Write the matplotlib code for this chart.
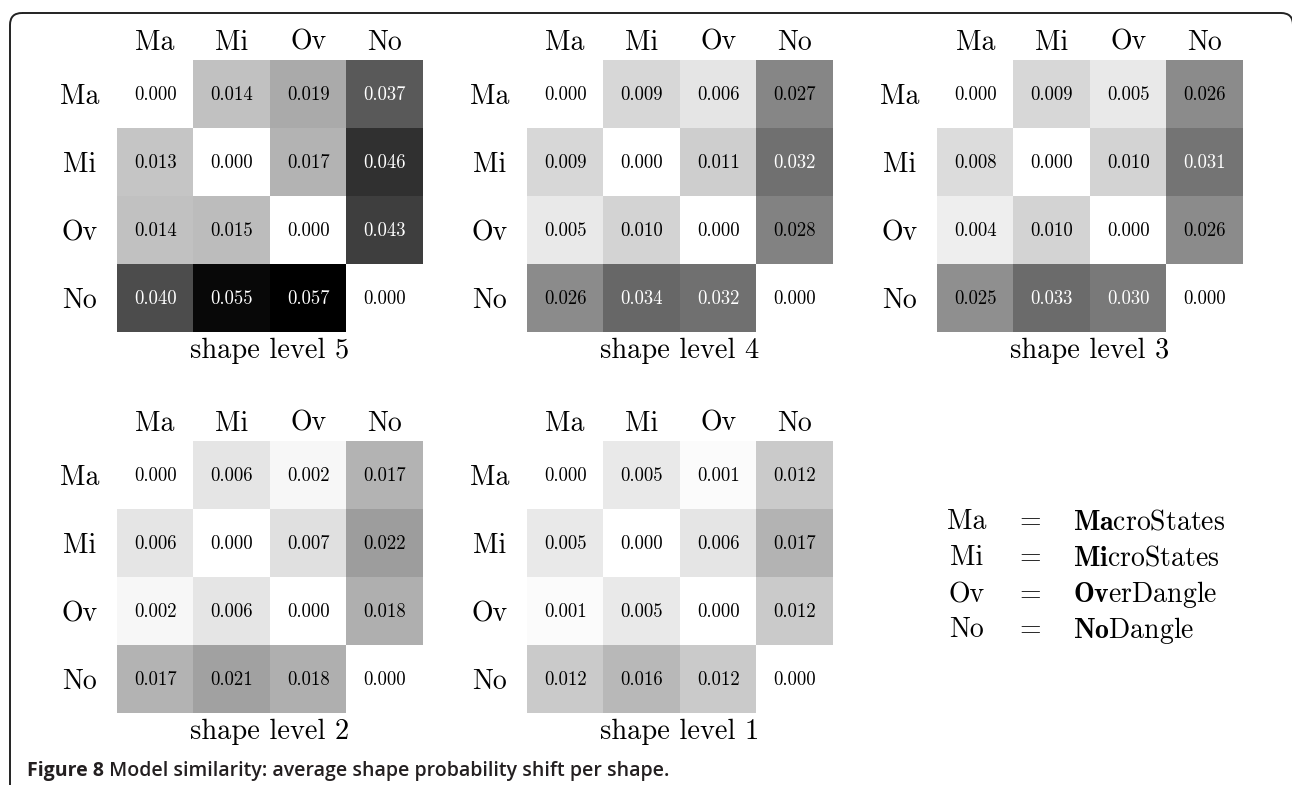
import numpy as np
import matplotlib
matplotlib.use('agg')
import matplotlib.pyplot as plt
from matplotlib.patches import FancyBboxPatch

plt.rcParams['mathtext.fontset'] = 'cm'
plt.rcParams['axes.unicode_minus'] = False

# abbreviations used on both axes of every matrix
labels = ['Ma', 'Mi', 'Ov', 'No']
full_names = [r'$\mathbf{Ma}$croStates', r'$\mathbf{Mi}$croStates',
              r'$\mathbf{Ov}$erDangle', r'$\mathbf{No}$Dangle']

# average shape probability shift, one matrix per shape level
level5 = [[0.000, 0.014, 0.019, 0.037],
          [0.013, 0.000, 0.017, 0.046],
          [0.014, 0.015, 0.000, 0.043],
          [0.040, 0.055, 0.057, 0.000]]
level4 = [[0.000, 0.009, 0.006, 0.027],
          [0.009, 0.000, 0.011, 0.032],
          [0.005, 0.010, 0.000, 0.028],
          [0.026, 0.034, 0.032, 0.000]]
level3 = [[0.000, 0.009, 0.005, 0.026],
          [0.008, 0.000, 0.010, 0.031],
          [0.004, 0.010, 0.000, 0.026],
          [0.025, 0.033, 0.030, 0.000]]
level2 = [[0.000, 0.006, 0.002, 0.017],
          [0.006, 0.000, 0.007, 0.022],
          [0.002, 0.006, 0.000, 0.018],
          [0.017, 0.021, 0.018, 0.000]]
level1 = [[0.000, 0.005, 0.001, 0.012],
          [0.005, 0.000, 0.006, 0.017],
          [0.001, 0.005, 0.000, 0.012],
          [0.012, 0.016, 0.012, 0.000]]
titles = ['shape level 5', 'shape level 4', 'shape level 3',
          'shape level 2', 'shape level 1']
matrices = [level5, level4, level3, level2, level1]

W, H = 1292, 785
fig = plt.figure(figsize=(W / 100, H / 100), dpi=100)

# background axes in pixel units for the frame and caption
bg = fig.add_axes([0, 0, 1, 1])
bg.set_xlim(0, W)
bg.set_ylim(H, 0)
bg.axis('off')
bg.add_patch(FancyBboxPatch((10, 13), 1283, 800,
                            boxstyle='round,pad=0,rounding_size=12',
                            fc='none', ec='#222222', lw=1.4))

vmax = max(np.max(m) for m in matrices)

# pixel positions of the cell blocks (left, top)
lefts = [117, 527, 937, 117, 527]
tops = [60, 60, 60, 441, 441]
cw, ch = 306, 272

for m, title, x0, y0 in zip(matrices, titles, lefts, tops):
    data = np.array(m)
    ax = fig.add_axes([x0 / W, 1 - (y0 + ch) / H, cw / W, ch / H])
    ax.imshow(data, cmap='gray_r', vmin=0, vmax=vmax, aspect='auto',
              interpolation='nearest')
    for i in range(4):
        for j in range(4):
            v = data[i, j]
            ax.text(j, i + 0.02, '%.3f' % v, ha='center', va='center',
                    fontsize=13.5, family='cmr10',
                    color='white' if v > 0.029 else 'black')
    ax.xaxis.tick_top()
    ax.set_xticks(range(4))
    ax.set_xticklabels(labels, family='cmr10', fontsize=20)
    ax.set_yticks(range(4))
    ax.set_yticklabels(labels, family='cmr10', fontsize=20, ha='center')
    ax.tick_params(axis='x', length=0, pad=3)
    ax.tick_params(axis='y', length=0, pad=27)
    for s in ax.spines.values():
        s.set_visible(False)
    ax.text(0.5, -0.068, title, transform=ax.transAxes, ha='center',
            va='center', family='cmr10', fontsize=20.5)

# legend of abbreviations
ys = [522, 558, 595, 630]
for ab, name, y in zip(labels, full_names, ys):
    bg.text(967, y, ab, ha='center', va='center', family='cmr10', fontsize=20)
    bg.text(1030, y, '=', ha='center', va='center', family='cmr10', fontsize=20)
    bg.text(1073, y, name, ha='left', va='center', family='cmr10', fontsize=20)

t1 = bg.text(27, 776, 'Figure 8', ha='left', va='baseline',
             family='Open Sans', fontweight='bold', fontsize=14, color='#231f20')
bg.annotate(' Model similarity: average shape probability shift per shape.',
            xy=(1, 0), xycoords=t1, ha='left', va='bottom',
            family='Open Sans', fontweight='semibold', fontsize=14,
            color='#231f20')

fig.savefig('out.png', dpi=100)
